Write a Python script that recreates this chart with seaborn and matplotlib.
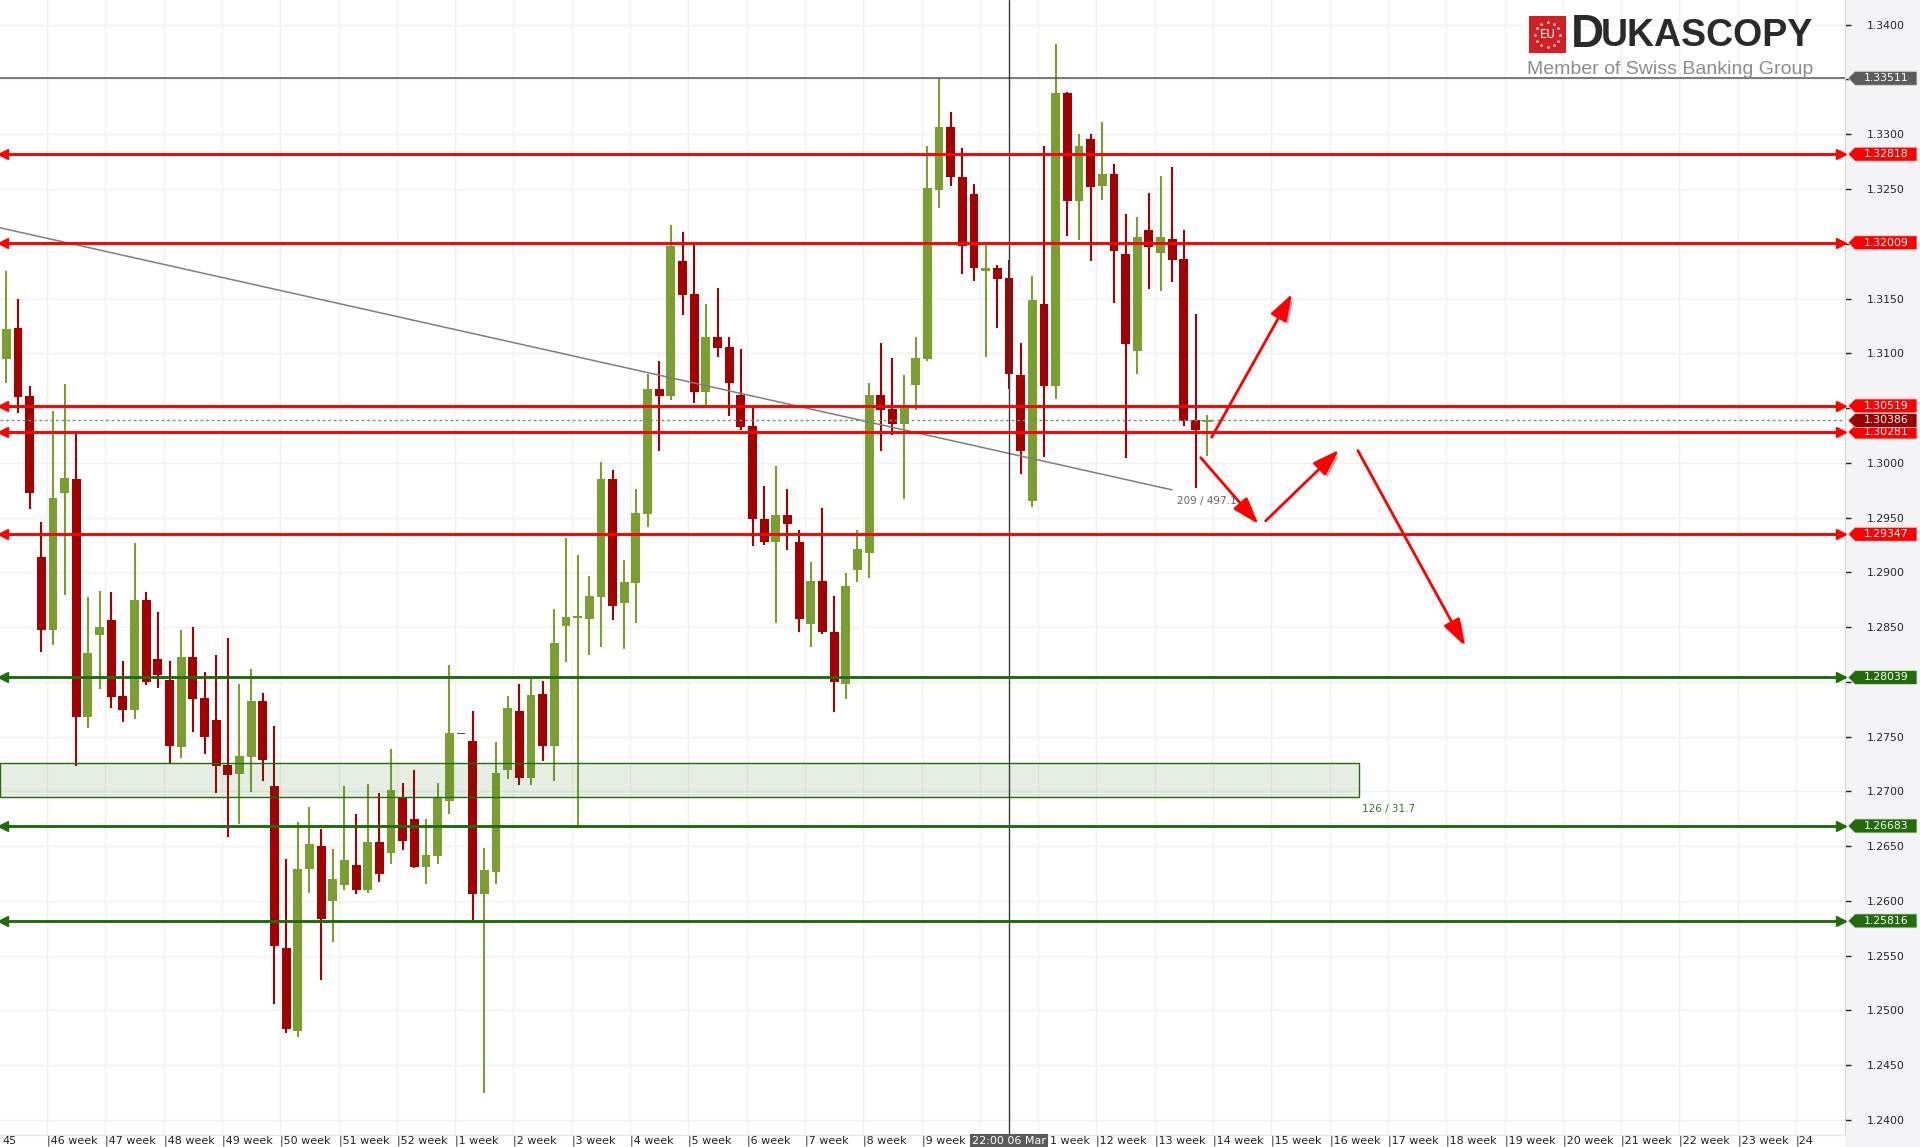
import numpy as np
import pandas as pd
import matplotlib
matplotlib.use("Agg")
import matplotlib.pyplot as plt
import seaborn as sns
from matplotlib.patches import Rectangle, Polygon
from matplotlib import transforms
import matplotlib.patheffects as pe

# ---------------- data (GBP/USD daily) ----------------
opens = [1.3095, 1.3123, 1.3061, 1.2914, 1.2847, 1.2972, 1.2985, 1.2768, 1.2843, 1.2856,
         1.2787, 1.2774, 1.2875, 1.2821, 1.2802, 1.2740, 1.2823, 1.2785, 1.2765, 1.2724,
         1.2716, 1.2731, 1.2782, 1.2705, 1.2557, 1.2481, 1.2629, 1.2650, 1.2600, 1.2614,
         1.2633, 1.2610, 1.2654, 1.2644, 1.2695, 1.2675, 1.2631, 1.2641, 1.2691, 1.2752,
         1.2746, 1.2606, 1.2626, 1.2719, 1.2773, 1.2712, 1.2789, 1.2741, 1.2851, 1.2858,
         1.2857, 1.2877, 1.2985, 1.2872, 1.2890, 1.2953, 1.3067, 1.3061, 1.3184, 1.3154,
         1.3065, 1.3115, 1.3106, 1.3062, 1.3034, 1.2949, 1.2928, 1.2952, 1.2928, 1.2853,
         1.2892, 1.2845, 1.2798, 1.2902, 1.2918, 1.3062, 1.3049, 1.3035, 1.3071, 1.3095,
         1.3249, 1.3307, 1.3261, 1.3245, 1.3175, 1.3178, 1.3169, 1.3080, 1.2965, 1.3145,
         1.3070, 1.3338, 1.3239, 1.3296, 1.3253, 1.3264, 1.3191, 1.3102, 1.3213, 1.3192,
         1.3204, 1.3186, 1.3039, 1.3037]
highs = [1.3175, 1.3150, 1.3070, 1.2946, 1.3047, 1.3072, 1.3027, 1.2877, 1.2883, 1.2882,
         1.2819, 1.2927, 1.2882, 1.2864, 1.2819, 1.2847, 1.2850, 1.2809, 1.2824, 1.2840,
         1.2798, 1.2812, 1.2790, 1.2760, 1.2638, 1.2672, 1.2686, 1.2666, 1.2647, 1.2705,
         1.2679, 1.2707, 1.2698, 1.2739, 1.2708, 1.2719, 1.2675, 1.2708, 1.2815, 1.2752,
         1.2773, 1.2648, 1.2745, 1.2787, 1.2798, 1.2804, 1.2801, 1.2866, 1.2931, 1.2916,
         1.2897, 1.3001, 1.2993, 1.2911, 1.2976, 1.3081, 1.3093, 1.3217, 1.3211, 1.3200,
         1.3145, 1.3160, 1.3115, 1.3104, 1.3051, 1.2979, 1.2997, 1.2976, 1.2939, 1.2909,
         1.2959, 1.2878, 1.2899, 1.2939, 1.3073, 1.3109, 1.3096, 1.3080, 1.3115, 1.3289,
         1.3351, 1.3320, 1.3287, 1.3255, 1.3199, 1.3181, 1.3185, 1.3109, 1.3171, 1.3289,
         1.3382, 1.3339, 1.3300, 1.3300, 1.3311, 1.3273, 1.3227, 1.3224, 1.3246, 1.3262,
         1.3270, 1.3213, 1.3136, 1.3044]
lows = [1.3073, 1.3045, 1.2958, 1.2827, 1.2834, 1.2879, 1.2723, 1.2758, 1.2793, 1.2776,
        1.2763, 1.2766, 1.2797, 1.2794, 1.2725, 1.2730, 1.2754, 1.2734, 1.2698, 1.2658,
        1.2670, 1.2699, 1.2709, 1.2506, 1.2479, 1.2476, 1.2607, 1.2528, 1.2562, 1.2610,
        1.2606, 1.2607, 1.2617, 1.2634, 1.2646, 1.2630, 1.2615, 1.2634, 1.2679, 1.2752,
        1.2582, 1.2424, 1.2615, 1.2711, 1.2706, 1.2706, 1.2728, 1.2709, 1.2818, 1.2669,
        1.2824, 1.2832, 1.2856, 1.2830, 1.2854, 1.2941, 1.3011, 1.3057, 1.3135, 1.3055,
        1.3053, 1.3097, 1.3043, 1.3030, 1.2924, 1.2925, 1.2854, 1.2920, 1.2845, 1.2832,
        1.2844, 1.2772, 1.2784, 1.2891, 1.2895, 1.3011, 1.3025, 1.2967, 1.3048, 1.3093,
        1.3233, 1.3253, 1.3172, 1.3166, 1.3097, 1.3123, 1.3067, 1.2990, 1.2960, 1.3005,
        1.3058, 1.3207, 1.3203, 1.3184, 1.3240, 1.3146, 1.3004, 1.3081, 1.3159, 1.3157,
        1.3165, 1.3034, 1.2977, 1.3006]
closes = [1.3122, 1.3060, 1.2972, 1.2847, 1.2968, 1.2986, 1.2768, 1.2826, 1.2850, 1.2786,
          1.2774, 1.2875, 1.2800, 1.2806, 1.2741, 1.2823, 1.2784, 1.2750, 1.2723, 1.2715,
          1.2732, 1.2782, 1.2729, 1.2559, 1.2483, 1.2629, 1.2652, 1.2583, 1.2620, 1.2637,
          1.2610, 1.2654, 1.2624, 1.2701, 1.2655, 1.2631, 1.2642, 1.2695, 1.2753, 1.2752,
          1.2606, 1.2628, 1.2717, 1.2776, 1.2712, 1.2788, 1.2741, 1.2835, 1.2859, 1.2860,
          1.2878, 1.2985, 1.2869, 1.2891, 1.2954, 1.3067, 1.3061, 1.3198, 1.3153, 1.3065,
          1.3115, 1.3105, 1.3073, 1.3033, 1.2949, 1.2928, 1.2952, 1.2944, 1.2857, 1.2892,
          1.2845, 1.2800, 1.2887, 1.2921, 1.3062, 1.3048, 1.3035, 1.3050, 1.3096, 1.3251,
          1.3307, 1.3261, 1.3198, 1.3178, 1.3178, 1.3168, 1.3081, 1.3011, 1.3149, 1.3070,
          1.3338, 1.3239, 1.3289, 1.3252, 1.3264, 1.3193, 1.3108, 1.3206, 1.3197, 1.3206,
          1.3185, 1.3038, 1.3030, 1.30386]

red_levels = [1.32818, 1.32009, 1.30519, 1.30281, 1.29347]
green_levels = [1.28039, 1.26683, 1.25816]
crosshair_price = 1.33511
current_price = 1.30386
crosshair_index = 86
crosshair_label = "22:00 06 Mar"
zone_low, zone_high, zone_end = 1.2695, 1.2726, 116.0
zone_label = "126 / 31.7"
trend_x = [-0.54, 100.0]
trend_y = [1.32146, 1.29752]
trend_label = "209 / 497.1"
week_labels = ["46 week", "47 week", "48 week", "49 week", "50 week", "51 week", "52 week",
               "1 week", "2 week", "3 week", "4 week", "5 week", "6 week", "7 week", "8 week",
               "9 week", "10 week", "11 week", "12 week", "13 week", "14 week", "15 week",
               "16 week", "17 week", "18 week", "19 week", "20 week", "21 week", "22 week",
               "23 week", "24"]
first_week_label = "45"
y_ticks = [1.2400, 1.2450, 1.2500, 1.2550, 1.2600, 1.2650, 1.2700, 1.2750, 1.2800, 1.2850,
           1.2900, 1.2950, 1.3000, 1.3050, 1.3100, 1.3150, 1.3200, 1.3250, 1.3300, 1.3350,
           1.3400]
arrow_starts = [(103.38, 1.30233), (102.44, 1.30047), (108.01, 1.29469), (115.92, 1.30111)]
arrow_ends = [(110.27, 1.31542), (107.38, 1.29441), (114.30, 1.30117), (125.10, 1.28327)]

# ---------------- style ----------------
sns.set_style("white")
plt.rcParams['font.family'] = ['DejaVu Sans']

W, H = 1920, 1147
fig = plt.figure(figsize=(W / 100, H / 100), dpi=100, facecolor='white')
ax = fig.add_axes([0, 12 / H, 1845 / W, 1135 / H])
fig.add_artist(Rectangle((1845 / W, 0), 75 / W, 1, transform=fig.transFigure,
                         facecolor='#f4f4f7', edgecolor='none', zorder=-1))

xmin, xmax = -0.54, 157.7
ymin, ymax = 1.23861, 1.34226
ax.set_xlim(xmin, xmax)
ax.set_ylim(ymin, ymax)

GREEN_C = '#7a9e2f'
RED_C = '#a30000'
LVL_RED = '#ff0000'
LVL_GREEN = '#216b0b'

df = pd.DataFrame({'o': opens, 'h': highs, 'l': lows, 'c': closes})
df['i'] = np.arange(len(df))
cols = np.where(df.c > df.o, GREEN_C, np.where(df.c < df.o, RED_C, '#555555'))
bottoms = np.minimum(df.o, df.c)
heights = np.maximum(np.abs(df.c - df.o), 0.00012)

ax.vlines(df.i, df.l, df.h, colors=cols, lw=1.5, zorder=3)
ax.bar(df.i, heights, bottom=bottoms, width=0.76, color=cols, linewidth=0, zorder=4)

# tags that cover axis labels
all_tags = [crosshair_price] + red_levels + [current_price] + green_levels


def hidden(t):
    return any(abs(t - p) < 0.0009 for p in all_tags)


# grid / ticks
week_pos = [3.5 + 5 * k for k in range(len(week_labels))]
ax.set_xticks(week_pos)
ax.tick_params(axis='x', length=0, labelbottom=False)
ax.set_yticks(y_ticks)
ax.set_yticklabels(["" if hidden(t) else f"{t:.4f}" for t in y_ticks])
ax.yaxis.tick_right()
ax.tick_params(axis='y', direction='out', length=4, width=1, pad=12, labelsize=7.8,
               colors='#222222')
ax.grid(True, color='#f1f1f1', lw=1, zorder=0)
for s in ['top', 'left']:
    ax.spines[s].set_visible(False)
ax.spines['right'].set_color('#d5d5d8')
ax.spines['bottom'].set_color('#e4e4e4')

# zone
ax.add_patch(Rectangle((xmin, zone_low), zone_end - xmin, zone_high - zone_low,
                       facecolor=LVL_GREEN, alpha=0.11, edgecolor='none', zorder=5))
ax.add_patch(Rectangle((xmin, zone_low), zone_end - xmin, zone_high - zone_low,
                       facecolor='none', edgecolor=LVL_GREEN, lw=1, zorder=5))
ax.text(zone_end + 0.3, 1.26838, zone_label, color='#2f7a18', fontsize=7.5,
        va='center', ha='left', zorder=6)

# trend line
sns.lineplot(x=trend_x, y=trend_y, ax=ax, color='#7f7f7f', lw=1.1, zorder=6)
ax.text(100.4, 1.29651, trend_label, color='#666666', fontsize=7.5, va='center',
        ha='left', zorder=6)

# crosshair
ax.axhline(crosshair_price, color='#555555', lw=1.1, zorder=6)
ax.axvline(crosshair_index, color='#3a3a3a', lw=1, zorder=6)
ax.axhline(current_price, color='#888888', lw=1, ls=(0, (2, 2)), zorder=6)

# level lines
for levels, colr in ((red_levels, LVL_RED), (green_levels, LVL_GREEN)):
    for lv in levels:
        ax.axhline(lv, color=colr, lw=2.1, zorder=7)
        ax.plot([xmin + 0.3], [lv], marker='<', ms=7, color=colr, clip_on=False, zorder=7)
        ax.plot([xmax - 0.35], [lv], marker='>', ms=7, color=colr, clip_on=False, zorder=7)

# arrows
for (x0, y0), (x1, y1) in zip(arrow_starts, arrow_ends):
    ax.annotate('', xy=(x1, y1), xytext=(x0, y0),
                arrowprops=dict(arrowstyle='-|>,head_length=0.9,head_width=0.3',
                                color='#ff0000', lw=2, shrinkA=0, shrinkB=0,
                                mutation_scale=18,
                                path_effects=[pe.withSimplePatchShadow(offset=(2, -2),
                                                                       alpha=0.35)]),
                zorder=8)

# price tags on the right axis
blend = transforms.blended_transform_factory(ax.transAxes, ax.transData)
px = 1.0 / 1845.0
half = 7.0 / 10950.0


def tag(price, color, zo=20):
    pts = [(1 + 3 * px, price), (1 + 10 * px, price + half), (1 + 72 * px, price + half),
           (1 + 72 * px, price - half), (1 + 10 * px, price - half)]
    ax.add_patch(Polygon(pts, closed=True, transform=blend, facecolor=color,
                         edgecolor='#dddddd', lw=0.6, clip_on=False, zorder=zo))
    ax.text(1 + 41 * px, price, f"{price:.5f}", transform=blend, color='white',
            fontsize=7.8, ha='center', va='center', clip_on=False, zorder=zo + 0.5)


tag(crosshair_price, '#5c5c5c')
for lv in red_levels:
    tag(lv, '#ff0000')
tag(current_price, '#990000', zo=22)
for lv in green_levels:
    tag(lv, LVL_GREEN)

# x labels (weeks)
bx = transforms.blended_transform_factory(ax.transData, ax.transAxes)
ylab = -6.0 / 1135
ax.text(xmin + 0.25, ylab, first_week_label, transform=bx, fontsize=8, color='#222222',
        ha='left', va='center', clip_on=False)
for pos, lab in zip(week_pos, week_labels):
    d = pos - crosshair_index
    if -4 < d < 0:
        continue  # hidden behind the crosshair date box
    if 0 < d < 4:
        ax.text(pos + 1.0, ylab, lab[1:], transform=bx, fontsize=8, color='#222222',
                ha='left', va='center', clip_on=False, zorder=3)
        continue
    ax.text(pos, ylab, "|" + lab, transform=bx, fontsize=8, color='#222222',
            ha='left', va='center', clip_on=False, zorder=3)
ax.text(crosshair_index, ylab, crosshair_label, transform=bx, fontsize=8, color='white',
        ha='center', va='center', clip_on=False, zorder=25,
        bbox=dict(boxstyle='square,pad=0.2', fc='#5a5a5a', ec='none'))

# logo
logo = fig.add_axes([1529 / W, 1 - 53 / H, 37 / W, 37 / H])
logo.set_facecolor('#d11f26')
logo.set_xlim(-1, 1)
logo.set_ylim(-1, 1)
logo.set_xticks([])
logo.set_yticks([])
for s in logo.spines.values():
    s.set_visible(False)
ang = np.linspace(0, 2 * np.pi, 12, endpoint=False)
logo.scatter(0.68 * np.cos(ang), 0.68 * np.sin(ang), marker='*', s=9, color='white', lw=0)
logo.text(0, -0.02, "EU", color='white', fontsize=8.5, ha='center', va='center')
fig.text(1571 / W, 1 - 35 / H, "D", fontsize=33, fontweight='heavy',
         family='Liberation Sans', color='#2a2a2a', ha='left', va='center')
fig.text(1601 / W, 1 - 36 / H, "UKASCOPY", fontsize=27, fontweight='heavy',
         family='Liberation Sans', color='#2a2a2a', ha='left', va='center')
fig.text(1527 / W, 1 - 70 / H, "Member of Swiss Banking Group", fontsize=14,
         family='Liberation Sans', color='#8c8c8c', ha='left', va='center')

fig.savefig("out.png", dpi=100, facecolor='white')
